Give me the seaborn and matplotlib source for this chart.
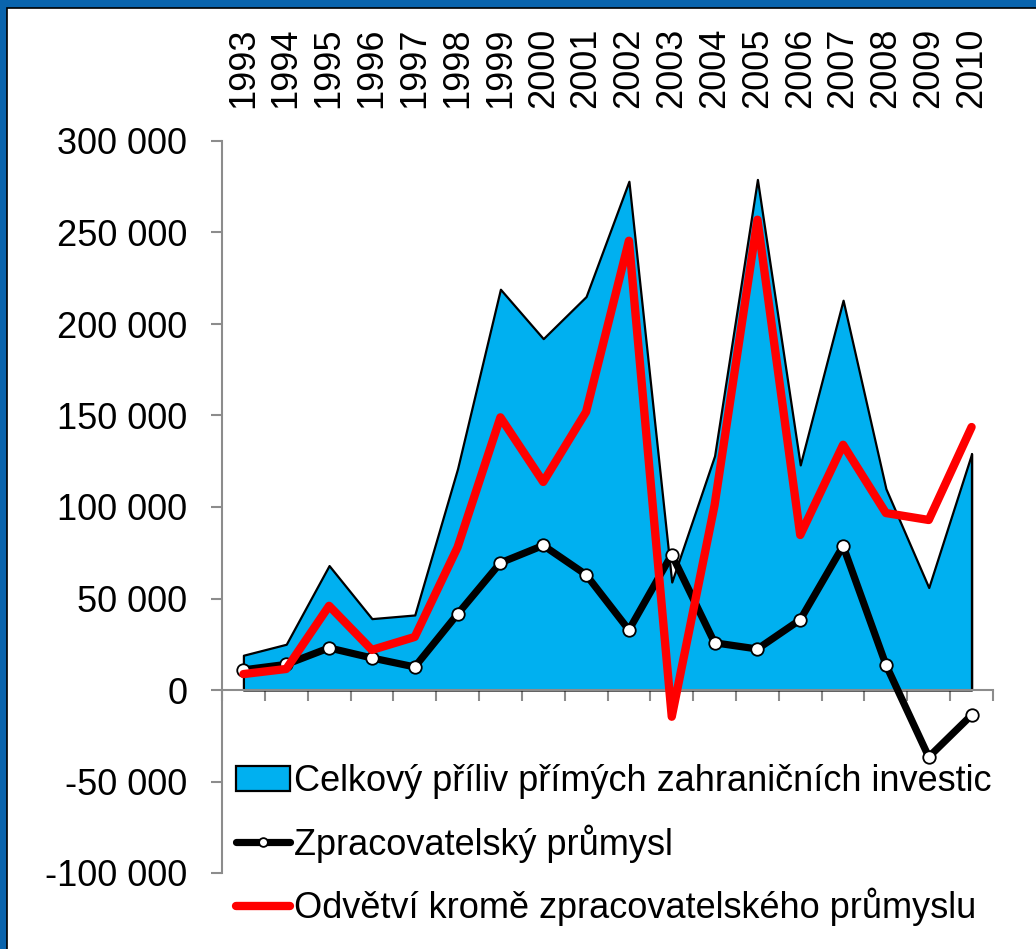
import matplotlib
matplotlib.use("Agg")
import matplotlib.pyplot as plt
import matplotlib.patches as mpatches
import numpy as np
import pandas as pd
import seaborn as sns

years = [1993, 1994, 1995, 1996, 1997, 1998, 1999, 2000, 2001,
         2002, 2003, 2004, 2005, 2006, 2007, 2008, 2009, 2010]
total = [19000, 25000, 68000, 39000, 41000, 121000, 219000, 192000, 215000,
         278000, 59000, 128000, 279000, 123000, 213000, 110000, 56000, 129000]
manufacturing = [11000, 14000, 23000, 17500, 12600, 41500, 69500, 79000, 63000,
                 32800, 74000, 25800, 22400, 38400, 78700, 13800, -36600, -13700]
other = [8700, 11500, 46000, 21900, 29000, 78000, 149000, 113700, 152000,
         245500, -14600, 101000, 257000, 84700, 134000, 96700, 92900, 143700]

lbl_total = "Celkový příliv přímých zahraničních investic"
lbl_manu = "Zpracovatelský průmysl"
lbl_other = "Odvětví kromě zpracovatelského průmyslu"

df = pd.DataFrame({"pos": np.arange(len(years)), "year": years, "total": total,
                   "manu": manufacturing, "other": other})

sns.set_theme(style="white")
plt.rcParams["font.family"] = ["Liberation Sans", "DejaVu Sans"]
plt.rcParams["text.color"] = "black"
plt.rcParams["xtick.labelcolor"] = "black"
plt.rcParams["ytick.labelcolor"] = "black"

fig = plt.figure(figsize=(10.36, 9.49), dpi=100)
fig.patch.set_facecolor("#0A64AD")
# white inner panel with thin black edge (frame is cropped at right/bottom)
fig.patches.append(mpatches.Rectangle((7 / 1036, -0.1), 1.2, (1 - 8 / 949) + 0.1,
                                      transform=fig.transFigure, facecolor="white",
                                      edgecolor="black", linewidth=1.2, zorder=-5))

ax = fig.add_axes([222 / 1036, 1 - 873 / 949, (993 - 222) / 1036, (873 - 141) / 949])
ax.set_zorder(2)
ax.set_facecolor("none")

ax.fill_between(df["pos"], 0, df["total"], color="#00B0F0", edgecolor="black",
                linewidth=1.6, label=lbl_total, zorder=1)
# close the right edge down to zero
ax.plot([df["pos"].iloc[-1]] * 2, [0, df["total"].iloc[-1]], color="black", lw=1.6, zorder=1)

sns.lineplot(data=df, x="pos", y="manu", ax=ax, color="black", linewidth=5.2,
             marker="o", markersize=9, markerfacecolor="white", markeredgecolor="black",
             markeredgewidth=1.3, label=lbl_manu, zorder=3)
sns.lineplot(data=df, x="pos", y="other", ax=ax, color="#FF0000", linewidth=6,
             label=lbl_other, zorder=4)

ax.set_xlim(-0.5, len(years) - 0.5)
ax.set_ylim(-100000, 300000)
ax.set_xlabel("")
ax.set_ylabel("")

gray = "#8C8C8C"
for s in ["top", "right"]:
    ax.spines[s].set_visible(False)
ax.spines["left"].set_color(gray)
ax.spines["left"].set_linewidth(1.5)
ax.spines["bottom"].set_color(gray)
ax.spines["bottom"].set_linewidth(1.5)
ax.spines["bottom"].set_position(("data", 0))

ax.set_yticks(np.arange(-100000, 300001, 50000))
ax.yaxis.set_major_formatter(plt.FuncFormatter(lambda v, _: f"{v:,.0f}".replace(",", " ")))
ax.tick_params(axis="y", direction="out", length=8, width=1.5, color=gray,
               labelsize=26, pad=17, left=True, labelcolor="black")
ax.set_xticks(np.arange(-0.5, len(years), 1.0))
ax.set_xticklabels([])
ax.tick_params(axis="x", direction="out", length=8, width=1.5, color=gray, bottom=True)

top = ax.secondary_xaxis("top")
top.set_xticks(df["pos"])
top.set_xticklabels([str(y) for y in years], rotation=90)
top.tick_params(axis="x", length=0, labelsize=26, pad=24, labelcolor="black")
top.spines["top"].set_visible(False)

handles, labels = ax.get_legend_handles_labels()
order = [labels.index(lbl_total), labels.index(lbl_manu), labels.index(lbl_other)]
leg = ax.legend([handles[i] for i in order], [labels[i] for i in order],
                loc="upper left", bbox_to_anchor=(236 / 1036, 1 - 764 / 949),
                bbox_transform=fig.transFigure, frameon=False, fontsize=26,
                handlelength=1.5, handletextpad=0.1, labelspacing=0.7,
                borderpad=0, borderaxespad=0, markerscale=0.7)
for t in leg.get_texts():
    t.set_color("black")

fig.savefig("out.png", dpi=100, facecolor=fig.get_facecolor())
